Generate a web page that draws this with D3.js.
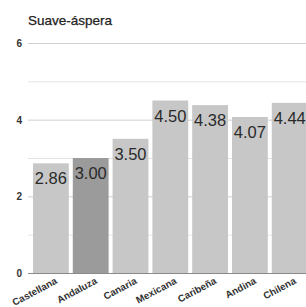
<!DOCTYPE html>
<html><head><meta charset="utf-8">
<script src="https://cdn.jsdelivr.net/npm/d3@7"></script>
<style>body{margin:0;background:#fff;overflow:hidden}svg{display:block;font-family:"Liberation Sans",Arial,sans-serif}</style>
</head><body>
<svg id="c" width="306" height="307"></svg>
<script>
const categories = ["Castellana","Andaluza","Canaria","Mexicana","Caribeña","Andina","Chilena"];
const values = [2.86, 3.00, 3.50, 4.50, 4.38, 4.07, 4.44];
const highlight = ["Andaluza"];
const yTicks = [0, 2, 4, 6];
const yGrid = [1, 2, 3, 4, 5, 6];
const title = "Suave-áspera";

const svg = d3.select("#c");
const y = d3.scaleLinear().domain([0, 6]).range([273, 43]);
const x = d3.scaleBand().domain(categories).range([31, 309.6]).paddingInner(0.1).paddingOuter(0.05);
const gx0 = 28, gx1 = 306;

svg.append("text").attr("x", 28).attr("y", 25).attr("font-size", 13.5).attr("fill", "#222")
  .attr("stroke", "#222").attr("stroke-width", 0.25).text(title);

svg.selectAll("line.grid").data(yGrid).join("line")
  .attr("x1", gx0).attr("x2", gx1)
  .attr("y1", d => y(d) + 0.5).attr("y2", d => y(d) + 0.5)
  .attr("stroke", d => d % 2 === 0 ? "#d0d0d0" : "#e4e4e4").attr("stroke-width", 1);

svg.selectAll("text.yt").data(yTicks).join("text")
  .attr("x", 22).attr("y", d => y(d) + 4).attr("text-anchor", "end")
  .attr("font-size", 10).attr("font-weight", "bold").attr("fill", "#333").text(d => d);

svg.selectAll("rect.bar").data(categories).join("rect")
  .attr("x", d => x(d)).attr("width", x.bandwidth())
  .attr("y", (d, i) => y(values[i])).attr("height", (d, i) => y(0) - y(values[i]))
  .attr("fill", d => highlight.includes(d) ? "#9b9b9b" : "#c7c7c7");

svg.append("line").attr("x1", gx0).attr("x2", gx1).attr("y1", y(0) + 0.5).attr("y2", y(0) + 0.5)
  .attr("stroke", "#8a8a8a").attr("stroke-width", 1);

svg.selectAll("text.val").data(categories).join("text")
  .attr("x", d => x(d) + x.bandwidth() / 2).attr("y", (d, i) => y(values[i]) + 21)
  .attr("text-anchor", "middle").attr("font-size", 16.5).attr("fill", "#2a2a2a")
  .text((d, i) => values[i].toFixed(2));

svg.selectAll("text.xl").data(categories).join("text")
  .attr("transform", d => `translate(${x(d) + x.bandwidth() / 2 + 7},${283}) rotate(-28)`)
  .attr("text-anchor", "end").attr("font-size", 9.8).attr("font-weight", "bold").attr("fill", "#333")
  .text(d => d);
</script>
</body></html>
